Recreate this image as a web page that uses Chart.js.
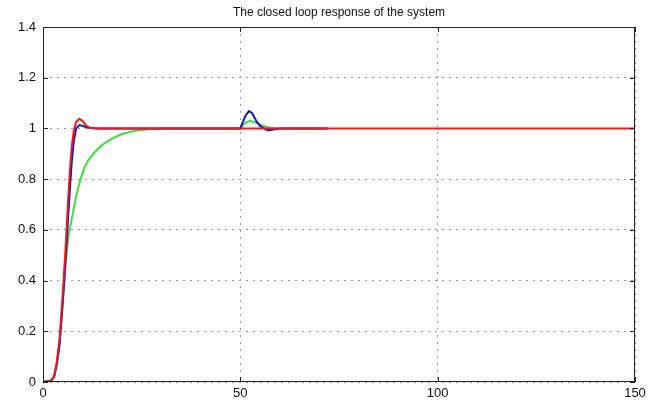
<!DOCTYPE html>
<html>
<head>
<meta charset="utf-8">
<title>Closed loop response</title>
<script src="https://cdn.jsdelivr.net/npm/chart.js@4.4.1/dist/chart.umd.min.js"></script>
<style>
    html, body { margin: 0; padding: 0; background: #fff; }
    #chart { display: block; }
</style>
</head>
<body>
<canvas id="chart" width="652" height="400"></canvas>
<script>
// Values (time, output)
const redT = [0, 2, 2.8, 3.5, 4.2, 4.8, 5.3, 5.8, 6.3, 6.8, 7.3, 7.8, 8.4, 9.2, 10, 11, 12, 14, 20, 30, 40, 50, 60, 80, 100, 120, 150];
const redY = [0, 0.005, 0.02, 0.08, 0.17, 0.3, 0.42, 0.55, 0.7, 0.83, 0.93, 0.99, 1.025, 1.038, 1.03, 1.01, 1.002, 1, 1, 1, 1, 1, 1, 1, 1, 1, 1];

const blueT = [0, 2, 2.8, 3.5, 4.2, 4.8, 5.3, 5.8, 6.3, 6.8, 7.3, 7.8, 8.4, 9.2, 10, 11, 12, 14, 20, 30, 40, 50, 50.5, 51.3, 52.2, 53, 54, 55, 56, 57, 58, 60, 65, 72];
const blueY = [0, 0.005, 0.02, 0.07, 0.15, 0.27, 0.38, 0.5, 0.63, 0.76, 0.87, 0.95, 1.0, 1.013, 1.01, 1.005, 1.002, 1, 1, 1, 1, 1, 1.02, 1.05, 1.068, 1.06, 1.03, 1.01, 1.0, 0.992, 0.995, 1, 1, 1];

const greenT = [0, 2, 2.8, 3.5, 4.2, 4.8, 5.3, 5.8, 6.5, 7.5, 8.5, 9.5, 10.5, 11.5, 13, 15, 17.5, 20, 23, 26, 30, 40, 50, 50.7, 51.5, 52.6, 54, 55.5, 57, 59, 65, 72];
const greenY = [0, 0.005, 0.02, 0.07, 0.15, 0.27, 0.38, 0.48, 0.58, 0.66, 0.74, 0.8, 0.845, 0.875, 0.905, 0.935, 0.96, 0.978, 0.99, 0.996, 1, 1, 1, 1.012, 1.025, 1.03, 1.022, 1.012, 1.005, 1, 1, 1];

const xTicks = [0, 50, 100, 150];
const yTicks = [0, 0.2, 0.4, 0.6, 0.8, 1, 1.2, 1.4];

function toPoints(ts, ys) {
    return ts.map((t, i) => ({ x: t, y: ys[i] }));
}

const fontFamily = '"Liberation Sans", Arial, sans-serif';

// Frame, inward tick marks and title in the MATLAB style
const matlabFrame = {
    id: 'matlabFrame',
    afterDatasetsDraw(chart) {
        const { ctx, chartArea: a, scales } = chart;
        ctx.save();
        ctx.strokeStyle = '#222';
        ctx.lineWidth = 1;
        ctx.strokeRect(a.left + 0.5, a.top + 0.5, a.right - a.left - 1, a.bottom - a.top - 1);
        ctx.beginPath();
        xTicks.forEach(v => {
            const px = Math.round(scales.x.getPixelForValue(v)) + 0.5;
            ctx.moveTo(px, a.bottom); ctx.lineTo(px, a.bottom - 5);
            ctx.moveTo(px, a.top); ctx.lineTo(px, a.top + 5);
        });
        yTicks.forEach(v => {
            const py = Math.round(scales.y.getPixelForValue(v)) + 0.5;
            ctx.moveTo(a.left, py); ctx.lineTo(a.left + 5, py);
            ctx.moveTo(a.right, py); ctx.lineTo(a.right - 5, py);
        });
        ctx.stroke();
        ctx.fillStyle = '#111';
        ctx.font = '12px ' + fontFamily;
        ctx.textAlign = 'center';
        ctx.textBaseline = 'middle';
        ctx.fillText('The closed loop response of the system', (a.left + a.right) / 2, 13);
        ctx.restore();
    }
};

new Chart(document.getElementById('chart'), {
    type: 'line',
    data: {
        datasets: [
            {
                label: 'red',
                data: toPoints(redT, redY),
                borderColor: '#f01818',
                borderWidth: 2,
                pointRadius: 0,
                tension: 0
            },
            {
                label: 'blue',
                data: toPoints(blueT, blueY),
                borderColor: '#1414c8',
                borderWidth: 2,
                pointRadius: 0,
                tension: 0
            },
            {
                label: 'green',
                data: toPoints(greenT, greenY),
                borderColor: '#3ee03e',
                borderWidth: 2,
                pointRadius: 0,
                tension: 0
            }
        ]
    },
    options: {
        responsive: false,
        animation: false,
        devicePixelRatio: 1,
        layout: {
            padding: { top: 27, right: 17, left: 0, bottom: 0 }
        },
        plugins: {
            legend: { display: false },
            title: { display: false },
            tooltip: { enabled: false }
        },
        scales: {
            x: {
                type: 'linear',
                min: 0,
                max: 150,
                afterFit: function(scale) { scale.height = 18; },
                afterBuildTicks: function(scale) { scale.ticks = xTicks.map(v => ({ value: v })); },
                border: { display: false, dash: [2, 5] },
                grid: {
                    color: '#9a9a9a',
                    drawTicks: false
                },
                ticks: {
                    color: '#111',
                    padding: 4,
                    maxRotation: 0,
                    font: { family: fontFamily, size: 13 }
                }
            },
            y: {
                min: 0,
                max: 1.4,
                afterFit: function(scale) { scale.width = 43; },
                afterBuildTicks: function(scale) { scale.ticks = yTicks.map(v => ({ value: v })); },
                border: { display: false, dash: [2, 5] },
                grid: {
                    color: '#9a9a9a',
                    drawTicks: false
                },
                ticks: {
                    color: '#111',
                    padding: 7,
                    font: { family: fontFamily, size: 13 },
                    callback: function(value) {
                        return String(Number(value.toFixed(1)));
                    }
                }
            }
        }
    },
    plugins: [matlabFrame]
});
</script>
</body>
</html>
